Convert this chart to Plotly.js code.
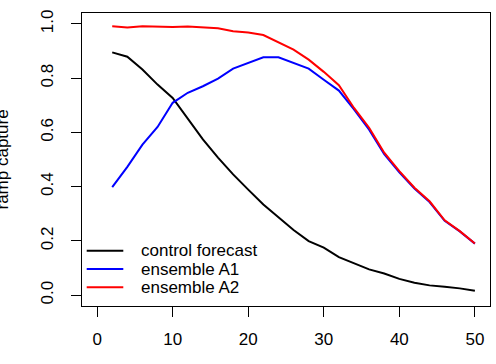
<!DOCTYPE html>
<html>
<head>
<meta charset="utf-8">
<script src="https://cdn.plot.ly/plotly-3.0.1.min.js"></script>
<style>html,body{margin:0;padding:0;background:#fff;}#chart{width:496px;height:364px;}</style>
</head>
<body>
<div id="chart"></div>
<script>
const leadTime = [2,4,6,8,10,12,14,16,18,20,22,24,26,28,30,32,34,36,38,40,42,44,46,48,50];
const controlForecast = [0.895,0.879,0.832,0.776,0.727,0.652,0.574,0.507,0.445,0.389,0.334,0.287,0.240,0.199,0.175,0.140,0.116,0.095,0.080,0.060,0.046,0.036,0.031,0.025,0.016];
const ensembleA1 = [0.398,0.473,0.555,0.620,0.709,0.746,0.770,0.798,0.835,0.856,0.877,0.877,0.856,0.835,0.794,0.754,0.685,0.610,0.520,0.453,0.393,0.343,0.274,0.235,0.190];
const ensembleA2 = [0.991,0.987,0.991,0.990,0.988,0.990,0.988,0.984,0.973,0.968,0.959,0.931,0.905,0.868,0.823,0.774,0.690,0.617,0.525,0.457,0.396,0.346,0.276,0.236,0.190];
const seriesNames = ["control forecast","ensemble A1","ensemble A2"];
const xTicks = [0,10,20,30,40,50];
const yTicks = [0,0.2,0.4,0.6,0.8,1.0];
const yTickText = ["0.0","0.2","0.4","0.6","0.8","1.0"];

const font = {family: "Liberation Sans, Arial, sans-serif", size: 17, color: "#000"};
const colors = ["#000000","#0000FF","#FF0000"];
const data = [controlForecast, ensembleA1, ensembleA2].map((ys, i) => ({
  x: leadTime, y: ys, type: "scatter", mode: "lines", name: seriesNames[i],
  line: {color: colors[i], width: 2}
}));

const axisCommon = {
  showgrid: false, zeroline: false, showline: true, mirror: true,
  linecolor: "#000", linewidth: 1, ticks: "outside", ticklen: 10,
  tickcolor: "#000", tickwidth: 1, tickfont: font
};

// legend drawn manually (R-style, no box)
const plotW = 408, plotH = 293;
const legRowsPx = [250.7, 269, 287.3];
const shapes = [], annotations = [];
seriesNames.forEach((name, i) => {
  const yp = (306 - legRowsPx[i]) / plotH;
  shapes.push({type: "line", xref: "paper", yref: "paper",
    x0: (86.7 - 82) / plotW, x1: (123.3 - 82) / plotW, y0: yp, y1: yp,
    line: {color: colors[i], width: 2}});
  annotations.push({text: name, xref: "paper", yref: "paper",
    x: (139 - 82) / plotW, y: yp, xanchor: "left", yanchor: "middle",
    showarrow: false, font: font});
});
annotations.push({
  text: "ramp capture", xref: "paper", yref: "paper", x: 0, y: 0.5,
  xanchor: "center", yanchor: "middle", xshift: -80, textangle: -90,
  showarrow: false, font: font
});

const layout = {
  width: 496, height: 364,
  margin: {l: 82, r: 6, t: 13, b: 58},
  paper_bgcolor: "#fff", plot_bgcolor: "#fff",
  font: font,
  showlegend: false,
  xaxis: Object.assign({}, axisCommon, {range: [-2, 52], tickvals: xTicks, ticktext: xTicks.map(String), ticklabelstandoff: 8}),
  yaxis: Object.assign({}, axisCommon, {range: [-0.04, 1.04], tickvals: yTicks, ticktext: yTickText, tickangle: -90, ticklabelstandoff: 11}),
  shapes: shapes,
  annotations: annotations
};

Plotly.newPlot("chart", data, layout, {staticPlot: true, displayModeBar: false});
</script>
</body>
</html>
